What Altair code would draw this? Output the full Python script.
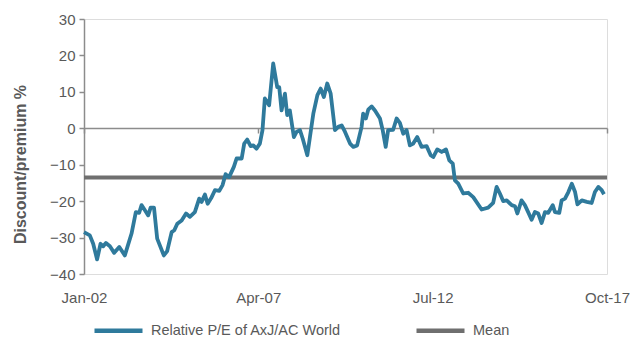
import altair as alt
import pandas as pd

dates = [
    "2002-01-01", "2002-03-06", "2002-04-12", "2002-05-25", "2002-07-02", "2002-07-31", "2002-08-30",
    "2002-10-13", "2002-11-29", "2003-01-24", "2003-03-26", "2003-06-08", "2003-07-25", "2003-08-31",
    "2003-09-26", "2003-11-02", "2003-12-08", "2004-01-04", "2004-02-10", "2004-03-16", "2004-05-28",
    "2004-07-04", "2004-08-22", "2004-09-20", "2004-10-23", "2004-12-10", "2005-01-27", "2005-03-10",
    "2005-05-04", "2005-06-21", "2005-07-17", "2005-08-23", "2005-09-22", "2005-11-05", "2005-12-11",
    "2006-01-28", "2006-03-05", "2006-04-07", "2006-05-16", "2006-07-07", "2006-08-06", "2006-10-01",
    "2006-10-29", "2006-12-01", "2007-01-08", "2007-02-06", "2007-03-13", "2007-04-19", "2007-05-18",
    "2007-06-13", "2007-07-30", "2007-09-13", "2007-10-27", "2007-11-18", "2007-12-14", "2008-01-20",
    "2008-02-14", "2008-03-14", "2008-04-27", "2008-05-27", "2008-07-03", "2008-08-02", "2008-09-22",
    "2008-10-21", "2008-11-27", "2009-01-11", "2009-02-16", "2009-03-23", "2009-04-29", "2009-06-06",
    "2009-07-23", "2009-08-29", "2009-10-05", "2009-11-11", "2010-01-05", "2010-02-10", "2010-03-24",
    "2010-05-12", "2010-05-29", "2010-06-28", "2010-07-24", "2010-08-31", "2010-10-06", "2010-11-30",
    "2010-12-30", "2011-02-01", "2011-02-28", "2011-04-24", "2011-06-01", "2011-07-07", "2011-08-13",
    "2011-09-19", "2011-10-25", "2011-12-01", "2012-01-14", "2012-03-02", "2012-04-26", "2012-06-10",
    "2012-07-08", "2012-08-21", "2012-10-09", "2012-11-25", "2013-01-01", "2013-02-08", "2013-03-03",
    "2013-04-09", "2013-06-03", "2013-07-27", "2013-09-21", "2013-12-22", "2014-03-04", "2014-04-28",
    "2014-06-05", "2014-07-11", "2014-08-17", "2014-09-24", "2014-11-18", "2014-12-24", "2015-01-19",
    "2015-03-06", "2015-04-12", "2015-05-18", "2015-06-25", "2015-07-31", "2015-09-06", "2015-10-13",
    "2015-11-19", "2015-12-25", "2016-02-12", "2016-03-08", "2016-04-24", "2016-05-20", "2016-06-26",
    "2016-08-02", "2016-09-09", "2016-10-15", "2016-11-10", "2016-12-28", "2017-02-21", "2017-04-15",
    "2017-05-21", "2017-06-27", "2017-08-04", "2017-08-29",
]

values = [
    -28.5, -29.4, -31.7, -36.0, -31.7, -32.4, -31.5,
    -32.4, -34.2, -32.6, -34.9, -28.9, -23.0, -23.2,
    -21.1, -22.5, -23.9, -21.8, -21.8, -30.3, -34.9,
    -33.7, -28.5, -28.0, -26.2, -25.3, -23.4, -24.3,
    -23.0, -19.3, -20.2, -18.2, -20.7, -18.9, -17.0,
    -17.2, -15.6, -12.6, -13.4, -10.6, -8.3, -8.3,
    -4.2, -3.1, -4.9, -4.7, -5.6, -4.2, -0.5,
    8.2, 6.3, 17.8, 11.3, 11.3, 4.9, 9.5,
    3.6, 4.9, -2.4, -1.0, -0.5, -2.8, -7.4,
    -2.4, 4.0, 9.1, 10.9, 8.6, 12.3, 9.5,
    -0.5, 0.4, 0.8, -1.0, -4.2, -5.1, -4.7,
    0.4, 4.0, 2.7, 5.1, 6.0, 4.9, 2.7,
    -0.5, -5.1, -0.5, -0.4, 2.7, 1.5, -1.5,
    -0.5, -4.7, -4.2, -2.4, -5.1, -4.9, -7.4,
    -7.9, -5.8, -6.5, -5.8, -8.8, -9.7, -14.3,
    -15.2, -17.9, -17.7, -18.9, -22.3, -21.8, -20.5,
    -16.1, -17.9, -20.0, -19.8, -21.1, -21.4, -23.4,
    -19.8, -21.1, -23.0, -25.1, -23.0, -23.4, -26.0,
    -23.0, -23.2, -21.1, -23.0, -23.2, -19.8, -19.3,
    -17.5, -15.2, -17.5, -20.9, -19.8, -20.2, -20.5,
    -17.5, -16.1, -17.0, -18.1,
]

mean_value = -13.5
series_names = ["Relative P/E of AxJ/AC World", "Mean"]
series_colors = ["#2f7a9c", "#6f6f6f"]
y_ticks = [-40, -30, -20, -10, 0, 10, 20, 30]

df = pd.DataFrame({"date": dates, "value": values, "series": series_names[0]})
mean_df = pd.DataFrame({"value": [mean_value], "series": [series_names[1]]})

FONT = "Liberation Sans"
TXT = "#595959"
AX = "#8c8c8c"

x_dom = [alt.DateTime(year=2002, month=1, date=1, utc=True),
         alt.DateTime(year=2017, month=10, date=1, utc=True)]
x_vals = [alt.DateTime(year=2002, month=1, date=1, utc=True),
          alt.DateTime(year=2007, month=4, date=1, utc=True),
          alt.DateTime(year=2012, month=7, date=1, utc=True),
          alt.DateTime(year=2017, month=10, date=1, utc=True)]

color_scale = alt.Scale(domain=series_names, range=series_colors)
legend = alt.Legend(
    title=None, orient="none", direction="horizontal", legendX=8, legendY=285,
    symbolType="stroke", symbolSize=2304, symbolStrokeWidth=4.5,
    labelFont=FONT, labelFontSize=14.5, labelColor=TXT, labelOffset=6,
    labelLimit=400, columnPadding=66,
)

y_enc = alt.Y(
    "value:Q",
    scale=alt.Scale(domain=[-40, 30], nice=False),
    axis=alt.Axis(
        values=y_ticks, title="Discount/premium %", titleFont=FONT, titleFontSize=16,
        titleFontWeight="bold", titleColor=TXT, titleX=-56, titleY=145,
        labelFont=FONT, labelFontSize=15, labelColor=TXT, labelPadding=4,
        domainColor=AX, domainWidth=1.5, tickColor=AX, tickWidth=1.5, tickSize=5,
        grid=False,
    ),
)

x_enc = alt.X(
    "date:T",
    scale=alt.Scale(type="utc", domain=x_dom),
    axis=alt.Axis(
        values=x_vals, format="%b-%y", title=None, offset=-146,
        domainColor=AX, domainWidth=1.5, tickColor=AX, tickWidth=1.5, tickSize=5,
        labelFont=FONT, labelFontSize=15, labelColor=TXT, labelPadding=157,
        grid=False, labelFlush=False,
    ),
)

mean_rule = alt.Chart(mean_df).mark_rule(size=4).encode(
    y=y_enc,
    color=alt.Color("series:N", scale=color_scale, legend=legend),
)

line = alt.Chart(df).mark_line(strokeWidth=3.8, strokeJoin="round").encode(
    x=x_enc,
    y=y_enc,
    color=alt.Color("series:N", scale=color_scale, legend=legend),
)

chart = alt.layer(mean_rule, line).properties(
    width=523, height=255,
    padding={"left": 84, "top": 19, "right": 30, "bottom": 66},
    autosize=alt.AutoSizeParams(type="none"),
).configure_view(strokeWidth=0).configure(background="white")

chart.save("out.html", embed_options={"renderer": "svg", "actions": False})
